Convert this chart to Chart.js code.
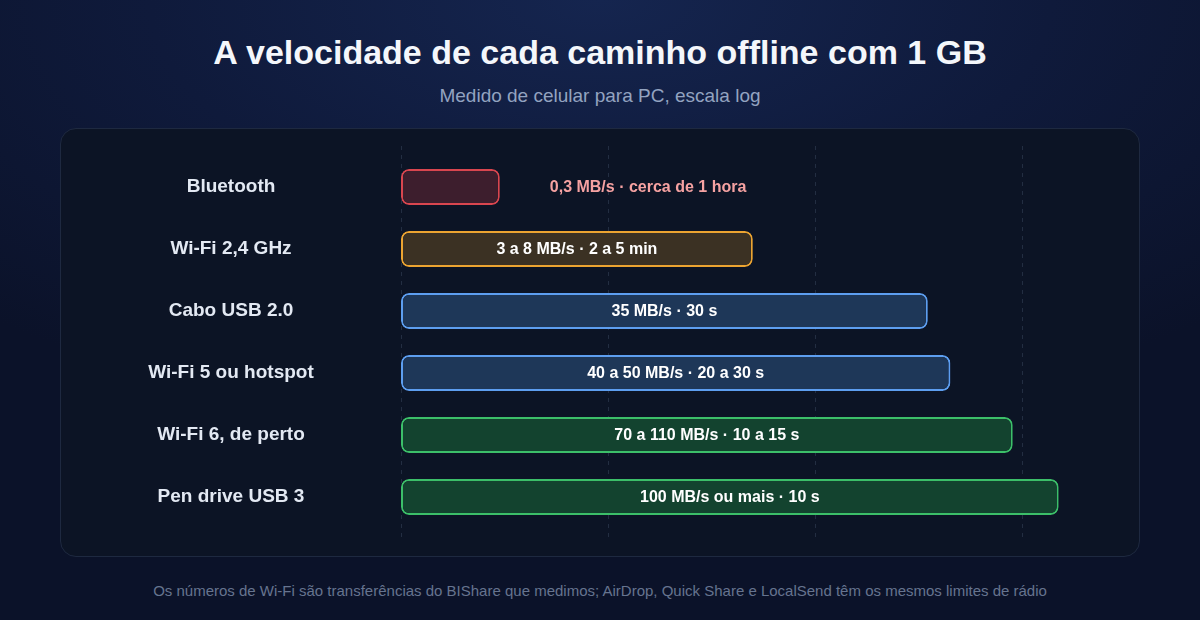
<!DOCTYPE html>
<html lang="pt-BR">
<head>
<meta charset="UTF-8">
<title>Velocidade offline 1 GB</title>
<script src="https://cdn.jsdelivr.net/npm/chart.js@4.4.1/dist/chart.umd.min.js"></script>
<style>
  html, body { margin: 0; padding: 0; }
  body {
    width: 1200px; height: 620px; overflow: hidden; position: relative;
    background: radial-gradient(ellipse 75% 70% at 50% 0%, #15254f 0%, #0f1a3b 50%, #0b1229 100%);
    font-family: "Liberation Sans", Arial, sans-serif;
  }
  #title {
    position: absolute; left: 0; width: 1200px; top: 32px;
    text-align: center; color: #f4f7fb; font-size: 34px; font-weight: bold; line-height: 40px;
  }
  #subtitle {
    position: absolute; left: 0; width: 1200px; top: 85px;
    text-align: center; color: #93a3c0; font-size: 19px; line-height: 22px;
  }
  #card {
    position: absolute; left: 60px; top: 128px; width: 1078px; height: 427px;
    background: #0c1425; border: 1px solid #1e2940; border-radius: 16px;
  }
  #card canvas { position: absolute; left: 0; top: 0; }
  #note {
    position: absolute; left: 0; width: 1200px; top: 581px;
    text-align: center; color: #66748f; font-size: 15px; line-height: 20px;
  }
</style>
</head>
<body>
<div id="title">A velocidade de cada caminho offline com 1 GB</div>
<div id="subtitle">Medido de celular para PC, escala log</div>
<div id="card"><canvas id="myChart" width="1078" height="427"></canvas></div>
<div id="note">Os números de Wi-Fi são transferências do BIShare que medimos; AirDrop, Quick Share e LocalSend têm os mesmos limites de rádio</div>

<script>
// dados
const categories = ['Bluetooth', 'Wi-Fi 2,4 GHz', 'Cabo USB 2.0', 'Wi-Fi 5 ou hotspot', 'Wi-Fi 6, de perto', 'Pen drive USB 3'];
const speeds = [0.3, 5, 35, 45, 90, 150];   // MB/s (escala log)
const barLabels = [
  '0,3 MB/s · cerca de 1 hora',
  '3 a 8 MB/s · 2 a 5 min',
  '35 MB/s · 30 s',
  '40 a 50 MB/s · 20 a 30 s',
  '70 a 110 MB/s · 10 a 15 s',
  '100 MB/s ou mais · 10 s'
];
const gridValues = [0.1, 1, 10, 100];

const fills   = ['#3d1e2d', '#3b3123', '#1e3758', '#1e3758', '#13432f', '#13432f'];
const borders = ['#d9464f', '#eca431', '#5d9ef0', '#5d9ef0', '#3cbf69', '#3cbf69'];
const outsideColor = '#f6a2a2';

const labelFont = 'bold 19px "Liberation Sans", Arial, sans-serif';
const barFont = 'bold 16px "Liberation Sans", Arial, sans-serif';

// largura da maior categoria, para centralizar os rótulos em x = 170
const m = document.createElement('canvas').getContext('2d');
m.font = labelFont;
const widest = Math.max(...categories.map(c => m.measureText(c).width));
const axisWidth = 340;
const labelCenter = 170;

// linhas de grade tracejadas
const gridPlugin = {
  id: 'dashGrid',
  beforeDatasetsDraw(chart) {
    const ctx = chart.ctx, x = chart.scales.x;
    ctx.save();
    ctx.strokeStyle = 'rgba(120,140,175,0.22)';
    ctx.lineWidth = 1;
    ctx.setLineDash([4, 5]);
    gridValues.forEach(v => {
      const px = Math.round(x.getPixelForValue(v)) + 0.5;
      ctx.beginPath();
      ctx.moveTo(px, 17);
      ctx.lineTo(px, 412);
      ctx.stroke();
    });
    ctx.restore();
  }
};

// texto nas barras
const labelPlugin = {
  id: 'barText',
  afterDatasetsDraw(chart) {
    const ctx = chart.ctx;
    const meta = chart.getDatasetMeta(0);
    ctx.save();
    ctx.font = barFont;
    ctx.textBaseline = 'middle';
    meta.data.forEach((bar, i) => {
      const txt = barLabels[i];
      const w = ctx.measureText(txt).width;
      const barW = bar.x - bar.base;
      if (w + 24 > barW) {
        ctx.fillStyle = outsideColor;
        ctx.textAlign = 'left';
        ctx.fillText(txt, bar.x + 50, bar.y + 1);
      } else {
        ctx.fillStyle = '#ffffff';
        ctx.textAlign = 'center';
        ctx.fillText(txt, (bar.x + bar.base) / 2, bar.y + 1);
      }
    });
    ctx.restore();
  }
};

new Chart(document.getElementById('myChart').getContext('2d'), {
  type: 'bar',
  data: {
    labels: categories,
    datasets: [{
      data: speeds,
      backgroundColor: fills,
      borderColor: borders,
      borderWidth: 2,
      borderRadius: 8,
      borderSkipped: false,
      barPercentage: 0.58,
      categoryPercentage: 1
    }]
  },
  options: {
    indexAxis: 'y',
    responsive: false,
    animation: false,
    layout: { padding: { left: 0, right: 18, top: 27, bottom: 28 } },
    plugins: { legend: { display: false }, tooltip: { enabled: false } },
    scales: {
      x: {
        type: 'logarithmic',
        min: 0.1,
        max: 300,
        display: false
      },
      y: {
        afterFit(s) {
          s.width = axisWidth;
          s.paddingTop = 0;
          s.paddingBottom = 0;
        },
        grid: { display: false, drawTicks: false },
        border: { display: false },
        ticks: {
          crossAlign: 'center',
          padding: axisWidth - labelCenter - widest / 2,
          color: '#e3e9f3',
          font: { family: '"Liberation Sans", Arial, sans-serif', size: 19, weight: 'bold' }
        }
      }
    }
  },
  plugins: [gridPlugin, labelPlugin]
});
</script>
</body>
</html>
